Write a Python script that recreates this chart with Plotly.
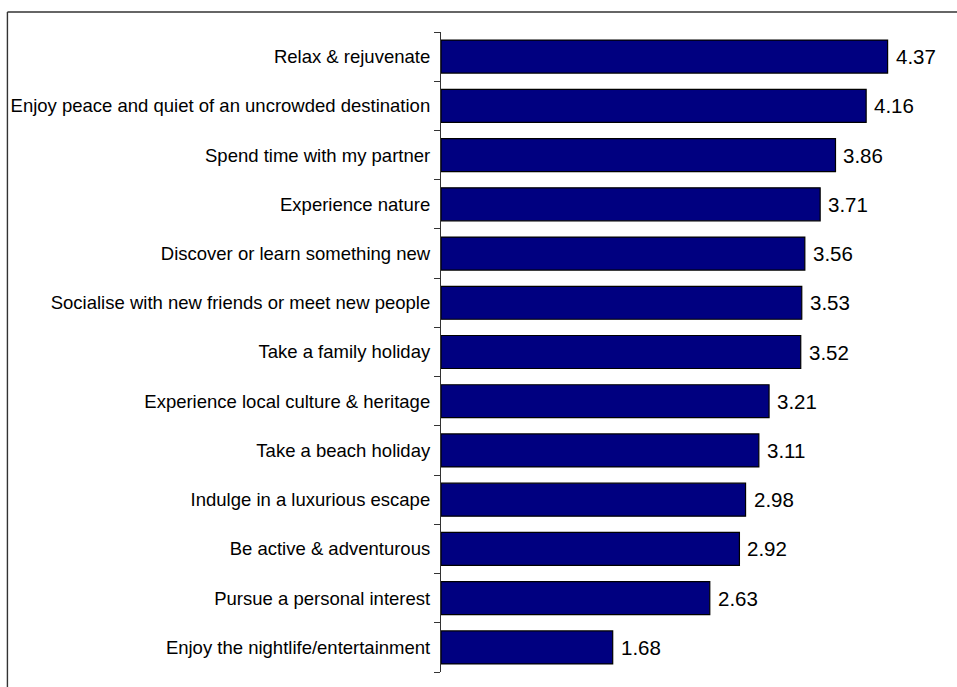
import plotly.graph_objects as go

# Mean importance score for each holiday motivation
motivations = [
    "Relax & rejuvenate",
    "Enjoy peace and quiet of an uncrowded destination",
    "Spend time with my partner",
    "Experience nature",
    "Discover or learn something new",
    "Socialise with new friends or meet new people",
    "Take a family holiday",
    "Experience local culture & heritage",
    "Take a beach holiday",
    "Indulge in a luxurious escape",
    "Be active & adventurous",
    "Pursue a personal interest",
    "Enjoy the nightlife/entertainment",
]
scores = [4.37, 4.16, 3.86, 3.71, 3.56, 3.53, 3.52, 3.21, 3.11, 2.98, 2.92, 2.63, 1.68]

W, H = 957, 687
ML, MR, MT, MB = 441, 4.5, 32, 15
plot_w = W - ML - MR
plot_h = H - MT - MB

FONT = "Liberation Sans, Arial, sans-serif"
AXIS_COLOR = "#333333"

fig = go.Figure(
    go.Bar(
        x=scores,
        y=motivations,
        orientation="h",
        marker=dict(color="#000080", line=dict(color="#000000", width=1.2)),
        hoverinfo="x+y",
    )
)

# invisible helper trace that carries the boundary tick axis
n = len(motivations)
fig.add_trace(go.Scatter(x=[None], y=[None], yaxis="y2", showlegend=False, hoverinfo="skip"))

# value labels just right of each bar
for name, val in zip(motivations, scores):
    fig.add_annotation(
        x=val, y=name, xref="x", yref="y",
        text=f"{val:.2f}", showarrow=False,
        xanchor="left", yanchor="middle", xshift=6,
        font=dict(family=FONT, size=20.5, color="#000000"),
    )


def px_x(p):
    return (p - ML) / plot_w


def px_y(p):
    return (H - MB - p) / plot_h


# outer frame (top and left edges)
frame = dict(color=AXIS_COLOR, width=1.4)
fig.add_shape(type="line", xref="paper", yref="paper",
              x0=px_x(7), x1=px_x(W + 5), y0=px_y(12), y1=px_y(12), line=frame)
fig.add_shape(type="line", xref="paper", yref="paper",
              x0=px_x(7), x1=px_x(7), y0=px_y(12), y1=px_y(H + 5), line=frame)

fig.update_layout(
    width=W, height=H,
    margin=dict(l=ML, r=MR, t=MT, b=MB, pad=0),
    paper_bgcolor="white", plot_bgcolor="white",
    bargap=0.33,
    showlegend=False,
    font=dict(family=FONT, color="#000000"),
    xaxis=dict(range=[0, 5], visible=False, fixedrange=True),
    yaxis=dict(
        type="category",
        autorange="reversed",
        ticks="outside", ticklen=6, tickcolor="rgba(0,0,0,0)", tickwidth=1,
        showline=True, linecolor=AXIS_COLOR, linewidth=1.2,
        showgrid=False, zeroline=False,
        tickfont=dict(family=FONT, size=18.5, color="#000000"),
        ticklabelstandoff=0,
        fixedrange=True,
    ),
    # numeric twin axis: tick marks on the boundaries between categories
    yaxis2=dict(
        overlaying="y", side="left",
        range=[n - 0.5, -0.5],
        tickmode="array",
        tickvals=[k - 0.5 for k in range(n + 1)],
        showticklabels=False,
        ticks="outside", ticklen=6, tickcolor=AXIS_COLOR, tickwidth=1,
        showline=False, showgrid=False, zeroline=False,
        fixedrange=True,
    ),
)

fig.write_html("out.html")
